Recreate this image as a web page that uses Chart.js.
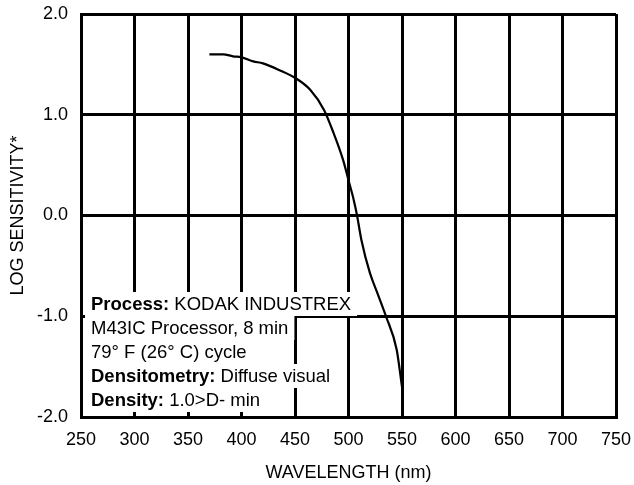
<!DOCTYPE html>
<html>
<head>
<meta charset="utf-8">
<script src="https://cdn.jsdelivr.net/npm/chart.js@4"></script>
<style>
    body { margin: 0; background: #fff; }
    #box { width: 634px; height: 485px; }
</style>
</head>
<body>
<div id="box"><canvas id="sensChart"></canvas></div>
<script>
// values
const wavelengths = [370, 383, 392, 400, 411, 420, 436, 451, 464, 477, 486, 495, 500, 505, 508, 512, 520, 527, 535, 545, 550];
const logSensitivity = [1.60, 1.60, 1.58, 1.57, 1.53, 1.51, 1.44, 1.36, 1.25, 1.05, 0.82, 0.55, 0.35, 0.15, 0.0, -0.24, -0.57, -0.77, -1.0, -1.33, -1.70];

const xTicks = [250, 300, 350, 400, 450, 500, 550, 600, 650, 700, 750];
const yTicks = [-2, -1, 0, 1, 2];

// note lines: [bold part, normal part]
const noteLines = [
    ['Process:', ' KODAK INDUSTREX'],
    ['', 'M43IC Processor, 8 min'],
    ['', '79\u00b0 F (26\u00b0 C) cycle'],
    ['Densitometry:', ' Diffuse visual'],
    ['Density:', ' 1.0>D- min']
];

Chart.defaults.font.family = '"Liberation Sans", Arial, sans-serif';
Chart.defaults.font.size = 18;
Chart.defaults.color = '#000';

const points = wavelengths.map((w, i) => ({ x: w, y: logSensitivity[i] }));

const noteFont = '18.5px "Liberation Sans", Arial, sans-serif';
const noteBold = 'bold ' + noteFont;

const notePlugin = {
    id: 'noteBox',
    afterDatasetsDraw(chart) {
        const c = chart.ctx;
        const area = chart.chartArea;
        c.save();
        c.textBaseline = 'middle';
        let y = area.bottom - 16 - 24 * (noteLines.length - 1);
        noteLines.forEach(line => {
            c.font = noteBold;
            const w1 = c.measureText(line[0]).width;
            c.font = noteFont;
            const w2 = c.measureText(line[1]).width;
            const x = area.left + 10;
            // white strip behind each line hides the grid
            c.fillStyle = '#fff';
            c.fillRect(area.left + 4, y - 13, w1 + w2 + 12, 24);
            c.fillStyle = '#000';
            c.font = noteBold;
            c.fillText(line[0], x, y);
            c.font = noteFont;
            c.fillText(line[1], x + w1, y);
            y += 24;
        });
        c.restore();
    }
};

let ctx = document.getElementById('sensChart');
const sensChart = new Chart(ctx, {
    type: 'scatter',
    data: {
        datasets: [{
            data: points,
            showLine: true,
            borderColor: '#000',
            borderWidth: 2.2,
            pointRadius: 0,
            cubicInterpolationMode: 'monotone'
        }]
    },
    options: {
        responsive: true,
        maintainAspectRatio: false,
        animation: false,
        layout: {
            padding: { top: 14, right: 18, left: 0, bottom: 0 }
        },
        plugins: {
            legend: { display: false },
            tooltip: { enabled: false }
        },
        scales: {
            x: {
                type: 'linear',
                min: 250,
                max: 750,
                afterBuildTicks: axis => { axis.ticks = xTicks.map(v => ({ value: v })); },
                afterFit: axis => {
                    axis.height = 68;
                    axis.paddingLeft = 0;
                    axis.paddingRight = 0;
                },
                ticks: {
                    padding: 12,
                    callback: v => String(v)
                },
                grid: { color: '#000', lineWidth: 3, drawTicks: false },
                border: { color: '#000', width: 3 },
                title: {
                    display: true,
                    text: 'WAVELENGTH (nm)',
                    padding: { top: 0, bottom: 1 }
                }
            },
            y: {
                min: -2,
                max: 2,
                afterBuildTicks: axis => { axis.ticks = yTicks.map(v => ({ value: v })); },
                afterFit: axis => {
                    axis.width = 81;
                    axis.paddingTop = 0;
                    axis.paddingBottom = 0;
                },
                ticks: {
                    padding: 13,
                    callback: v => v.toFixed(1)
                },
                grid: { color: '#000', lineWidth: 3, drawTicks: false },
                border: { color: '#000', width: 3 },
                title: {
                    display: true,
                    text: 'LOG SENSITIVITY*',
                    padding: { top: 7, bottom: 0 }
                }
            }
        }
    },
    plugins: [notePlugin]
});
</script>
</body>
</html>
